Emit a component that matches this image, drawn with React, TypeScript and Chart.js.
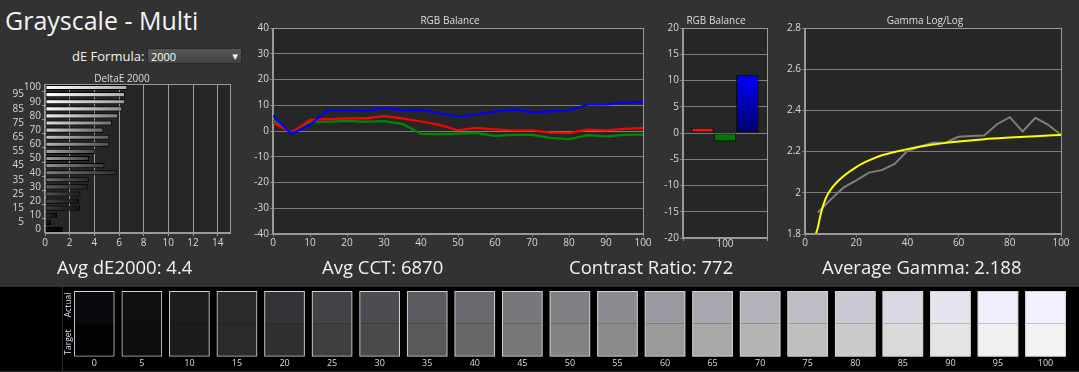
import React, { useEffect, useRef } from 'react';
import { Chart, registerables } from 'chart.js';

Chart.register(...registerables);

const FONT = '"Open Sans", "Noto Sans", "DejaVu Sans", sans-serif';
Chart.defaults.font.family = FONT;

// ---------- data ----------
const levels = [0, 5, 10, 15, 20, 25, 30, 35, 40, 45, 50, 55, 60, 65, 70, 75, 80, 85, 90, 95, 100];

const deltaE2000 = [1.45, 0.48, 0.97, 2.83, 2.75, 2.88, 3.47, 3.55, 5.81, 4.82, 3.58, 4.04, 5.22, 5.22, 4.74, 5.44, 5.95, 6.27, 6.51, 6.49, 6.68];

const redBalance = [3.2, -0.6, 4.3, 4.6, 4.9, 4.9, 5.8, 4.9, 3.7, 2.4, 0.3, 1.2, 0.6, 0.2, 0.3, -0.6, -0.8, 0.5, 0.3, 0.8, 1.2];
const greenBalance = [4.3, -0.5, 3.6, 3.6, 3.9, 3.6, 3.8, 2.8, -1.1, -1.2, -1.0, -0.7, -1.9, -1.5, -1.5, -2.7, -3.2, -1.6, -2.1, -1.5, -1.4];
const blueBalance = [5.9, -1.1, 2.5, 8.1, 8.1, 7.8, 8.9, 8.1, 8.2, 6.9, 5.6, 6.4, 7.6, 8.4, 7.3, 7.6, 8.0, 10.3, 10.3, 11.0, 11.3];

const balanceBarLabel = ['100'];
const balanceAt100 = [1.0, -1.6, 11.0]; // R, G, B

const gammaLevels = [5, 10, 15, 20, 25, 30, 35, 40, 45, 50, 55, 60, 65, 70, 75, 80, 85, 90, 95, 100];
const gammaMeasured = [1.904, 1.967, 2.025, 2.06, 2.098, 2.11, 2.14, 2.203, 2.225, 2.243, 2.244, 2.272, 2.276, 2.278, 2.333, 2.367, 2.298, 2.364, 2.33, 2.281];
const gammaTargetX = [4.2, 5, 6, 8, 10, 15, 20, 25, 30, 35, 40, 50, 60, 70, 80, 90, 100];
const gammaTargetY = [1.8, 1.83, 1.89, 1.97, 2.015, 2.08, 2.125, 2.157, 2.182, 2.198, 2.212, 2.234, 2.249, 2.26, 2.268, 2.275, 2.281];

const actualColors = ['#080a10', '#101010', '#1d1d1d', '#2a2a2c', '#333338', '#424247', '#4d4c52', '#5c5b61', '#69686e', '#78777c', '#807f84', '#8c8b91', '#9a99a2', '#a8a7b0', '#b3b2bb', '#bebdc6', '#cac9d3', '#d9d8e3', '#e5e4ef', '#efeefc', '#f1f0fe'];
const targetColors = ['#020202', '#0e0e0e', '#1c1c1c', '#2a2a2a', '#303030', '#3f3f3f', '#4a4a4a', '#595959', '#676767', '#777777', '#838383', '#8b8b8b', '#9a9a9a', '#a8a8a8', '#b4b4b4', '#bfbfbf', '#cbcbcb', '#d9d9d9', '#e5e5e5', '#f1f1f1', '#f3f3f3'];

const stats = [
  { text: 'Avg dE2000: 4.4', left: 57 },
  { text: 'Avg CCT: 6870', left: 322 },
  { text: 'Contrast Ratio: 772', left: 569 },
  { text: 'Average Gamma: 2.188', left: 822 },
];

// ---------- styles ----------
const PANEL = '#323232';
const PLOT = '#262626';
const GRID = '#7d7d7d';
const FRAME = '#9a9a9a';
const TICK = '#d3d9e3';
const TITLE = '#dedede';
const tickFont = { family: FONT, size: 10 };

const framePlugin = {
  id: 'plotFrame',
  beforeDraw(chart: any, _a: any, opts: any) {
    const { ctx, chartArea: a } = chart;
    if (!a) return;
    ctx.save();
    ctx.fillStyle = opts.bg || PLOT;
    ctx.fillRect(a.left, a.top, a.right - a.left, a.bottom - a.top);
    ctx.restore();
  },
  afterDraw(chart: any, _a: any, opts: any) {
    const { ctx, chartArea: a } = chart;
    if (!a) return;
    ctx.save();
    ctx.strokeStyle = opts.border || FRAME;
    ctx.lineWidth = 1;
    ctx.strokeRect(Math.round(a.left) - 0.5, Math.round(a.top) + 0.5, Math.round(a.right - a.left) + 1, Math.round(a.bottom - a.top) - 1);
    ctx.restore();
  },
};

const titlePlugin = {
  id: 'panelTitle',
  afterDraw(chart: any, _a: any, opts: any) {
    if (!opts || !opts.text) return;
    const ctx = chart.ctx;
    ctx.save();
    ctx.font = `normal 10px ${FONT}`;
    ctx.fillStyle = TITLE;
    ctx.textAlign = 'center';
    ctx.textBaseline = 'middle';
    ctx.fillText(opts.text, opts.x, opts.y);
    ctx.restore();
  },
};

const fixW = (w: number) => (s: any) => {
  s.width = w;
  s.paddingTop = 0; s.paddingBottom = 0; s.paddingLeft = 0; s.paddingRight = 0;
};
const fixH = (h: number) => (s: any) => {
  s.height = h;
  s.paddingTop = 0; s.paddingBottom = 0; s.paddingLeft = 0; s.paddingRight = 0;
};

const num = (v: any) => String(Math.round(Number(v) * 10) / 10);

const baseOpts = {
  responsive: false,
  animation: false as const,
  events: [] as any[],
};

const hexToGray = (h: string) => parseInt(h.slice(1, 3), 16);
const grayHex = (v: number) => {
  const c = Math.max(0, Math.min(255, Math.round(v))).toString(16).padStart(2, '0');
  return '#' + c + c + c;
};

// ---------- chart configs ----------
const levelsDesc = [...levels].reverse().map(String);
const deltaDesc = [...deltaE2000].reverse();

function deltaConfig(): any {
  return {
    type: 'bar',
    data: {
      labels: levelsDesc,
      datasets: [
        {
          label: 'DeltaE 2000',
          data: deltaDesc,
          borderColor: '#000000',
          borderWidth: 1,
          borderSkipped: false,
          barPercentage: 0.72,
          categoryPercentage: 1,
          backgroundColor: (c: any) => {
            if (c.type !== 'data') return '#888888';
            const idx = levels.length - 1 - c.dataIndex;
            const g = hexToGray(targetColors[idx]);
            const left = grayHex(Math.min(255, g * 1.1 + 14));
            const right = grayHex(g * (0.45 + 0.3 * Math.pow(g / 255, 3)));
            const chart = c.chart;
            if (!chart.chartArea || !chart.scales.x) return left;
            const xs = chart.scales.x;
            const x0 = xs.getPixelForValue(0);
            const x1 = xs.getPixelForValue(c.raw || 0);
            const grad = chart.ctx.createLinearGradient(x0, 0, Math.max(x1, x0 + 1), 0);
            grad.addColorStop(0, left);
            grad.addColorStop(1, right);
            return grad;
          },
        },
      ],
    },
    options: {
      ...baseOpts,
      indexAxis: 'y',
      layout: { padding: { left: 0, right: 10, top: 18, bottom: 0 } },
      plugins: {
        legend: { display: false },
        tooltip: { enabled: false },
        title: { display: false },
        panelTitle: { text: 'DeltaE 2000', x: 122, y: 13 },
        plotFrame: { bg: PLOT, border: FRAME },
      },
      scales: {
        x: {
          type: 'linear',
          min: 0,
          max: 15,
          ticks: { stepSize: 2, includeBounds: false, color: TICK, font: tickFont, padding: 1, callback: num },
          grid: { color: '#9c9c9c', tickLength: 3 },
          border: { color: FRAME },
          afterFit: fixH(22),
        },
        y: {
          type: 'category',
          ticks: {
            autoSkip: false,
            color: TICK,
            font: tickFont,
            padding: 1,
            callback: (_v: any, i: number) => (i % 2 === 1 ? levelsDesc[i] + '\u2007\u2007\u2007' : levelsDesc[i]),
          },
          grid: {
            drawOnChartArea: false,
            tickLength: 3,
            color: (c: any) => (c.index % 2 === 1 ? '#9c9c9c' : 'rgba(0,0,0,0)'),
          },
          border: { color: FRAME },
          afterFit: fixW(45),
        },
      },
    },
    plugins: [framePlugin, titlePlugin],
  };
}

function balanceLineConfig(): any {
  const mk = (arr: number[]) => levels.map((x, i) => ({ x, y: arr[i] }));
  return {
    type: 'line',
    data: {
      datasets: [
        { label: 'Blue', data: mk(blueBalance), borderColor: '#0000ff', borderWidth: 2.2, pointRadius: 0, tension: 0 },
        { label: 'Red', data: mk(redBalance), borderColor: '#ff0000', borderWidth: 2.2, pointRadius: 0, tension: 0 },
        { label: 'Green', data: mk(greenBalance), borderColor: '#008800', borderWidth: 2.2, pointRadius: 0, tension: 0 },
      ],
    },
    options: {
      ...baseOpts,
      layout: { padding: { left: 0, right: 17, top: 20, bottom: 0 } },
      plugins: {
        legend: { display: false },
        tooltip: { enabled: false },
        title: { display: false },
        panelTitle: { text: 'RGB Balance', x: 210, y: 13 },
        plotFrame: { bg: PLOT, border: FRAME },
      },
      scales: {
        x: {
          type: 'linear',
          min: 0,
          max: 100,
          ticks: { stepSize: 10, color: TICK, font: tickFont, padding: 0, callback: num },
          grid: { drawOnChartArea: false, tickLength: 3, color: GRID },
          border: { color: FRAME },
          afterFit: fixH(20),
        },
        y: {
          min: -40,
          max: 40,
          ticks: { stepSize: 10, color: TICK, font: tickFont, padding: 1, callback: num },
          grid: { color: GRID, tickLength: 3 },
          border: { color: FRAME },
          afterFit: fixW(33),
        },
      },
    },
    plugins: [framePlugin, titlePlugin],
  };
}

function balanceBarConfig(): any {
  const grad = (top: string, bottom: string) => (c: any) => {
    const chart = c.chart;
    if (c.type !== 'data' || !chart.chartArea || !chart.scales.y) return top;
    const ys = chart.scales.y;
    const v = c.raw || 0;
    const y0 = ys.getPixelForValue(Math.max(v, 0));
    const y1 = ys.getPixelForValue(Math.min(v, 0));
    const g = chart.ctx.createLinearGradient(0, y0, 0, Math.max(y1, y0 + 1));
    g.addColorStop(0, top);
    g.addColorStop(1, bottom);
    return g;
  };
  return {
    type: 'bar',
    data: {
      labels: balanceBarLabel,
      datasets: [
        { label: 'Red', data: [balanceAt100[0]], backgroundColor: grad('#ff2020', '#e00000') },
        { label: 'Green', data: [balanceAt100[1]], backgroundColor: grad('#008800', '#006e00') },
        { label: 'Blue', data: [balanceAt100[2]], backgroundColor: grad('#0000ff', '#000068') },
      ],
    },
    options: {
      ...baseOpts,
      layout: { padding: { left: 0, right: 13, top: 20, bottom: 0 } },
      datasets: { bar: { categoryPercentage: 0.8, barPercentage: 1, borderColor: '#000000', borderWidth: 1, borderSkipped: false } },
      plugins: {
        legend: { display: false },
        tooltip: { enabled: false },
        title: { display: false },
        panelTitle: { text: 'RGB Balance', x: 56, y: 13 },
        plotFrame: { bg: PLOT, border: FRAME },
      },
      scales: {
        x: {
          type: 'category',
          ticks: { color: TICK, font: tickFont, padding: -3 },
          grid: { drawOnChartArea: false, tickLength: 3, color: FRAME, offset: true },
          border: { color: FRAME },
          afterFit: fixH(20),
        },
        y: {
          min: -20,
          max: 20,
          ticks: { stepSize: 5, color: TICK, font: tickFont, padding: 1, callback: num },
          grid: { color: GRID, tickLength: 3 },
          border: { color: FRAME },
          afterFit: fixW(23),
        },
      },
    },
    plugins: [framePlugin, titlePlugin],
  };
}

function gammaConfig(): any {
  return {
    type: 'line',
    data: {
      datasets: [
        {
          label: 'Target',
          data: gammaTargetX.map((x, i) => ({ x, y: gammaTargetY[i] })),
          borderColor: '#ffff00',
          borderWidth: 2,
          pointRadius: 0,
          cubicInterpolationMode: 'monotone',
        },
        {
          label: 'Measured',
          data: gammaLevels.map((x, i) => ({ x, y: gammaMeasured[i] })),
          borderColor: '#7f7f7f',
          borderWidth: 2,
          pointRadius: 0,
          tension: 0,
        },
      ],
    },
    options: {
      ...baseOpts,
      layout: { padding: { left: 0, right: 18, top: 20, bottom: 0 } },
      plugins: {
        legend: { display: false },
        tooltip: { enabled: false },
        title: { display: false },
        panelTitle: { text: 'Gamma Log/Log', x: 150, y: 13 },
        plotFrame: { bg: PLOT, border: FRAME },
      },
      scales: {
        x: {
          type: 'linear',
          min: 0,
          max: 100,
          ticks: { stepSize: 20, color: TICK, font: tickFont, padding: 0, callback: num },
          grid: { drawOnChartArea: false, tickLength: 3, color: GRID },
          border: { color: FRAME },
          afterFit: fixH(20),
        },
        y: {
          min: 1.8,
          max: 2.8,
          ticks: { stepSize: 0.2, color: TICK, font: tickFont, padding: 1, callback: num },
          grid: { color: GRID, tickLength: 3 },
          border: { color: FRAME },
          afterFit: fixW(30),
        },
      },
    },
    plugins: [framePlugin, titlePlugin],
  };
}

function swatchConfig(): any {
  return {
    type: 'bar',
    data: {
      labels: levels.map(String),
      datasets: [
        {
          label: 'Frame',
          data: levels.map(() => [0, 2]),
          backgroundColor: 'rgba(0,0,0,0)',
          borderColor: '#d2d2d2',
          borderWidth: 1,
          borderSkipped: false,
          grouped: false,
          order: 0,
        },
        {
          label: 'Actual',
          data: levels.map(() => [1, 2]),
          backgroundColor: actualColors,
          borderWidth: 0,
          grouped: false,
          order: 1,
        },
        {
          label: 'Target',
          data: levels.map(() => [0, 1]),
          backgroundColor: targetColors,
          borderWidth: 0,
          grouped: false,
          order: 2,
        },
      ],
    },
    options: {
      ...baseOpts,
      layout: { padding: { left: 7.5, right: 9.7, top: 4, bottom: 0 } },
      datasets: { bar: { categoryPercentage: 1, barPercentage: 0.856 } },
      plugins: { legend: { display: false }, tooltip: { enabled: false }, title: { display: false } },
      scales: {
        x: {
          type: 'category',
          ticks: { color: '#d6dbe6', font: { family: FONT, size: 9 }, padding: 1, autoSkip: false, maxRotation: 0 },
          grid: { display: false, drawTicks: false, tickLength: 0 },
          border: { display: false },
          afterFit: fixH(15.3),
        },
        y: { display: false, min: 0, max: 2 },
      },
    },
  };
}

// ---------- components ----------
function ChartBox(props: { left: number; top: number; width: number; height: number; make: () => any }) {
  const ref = useRef<HTMLCanvasElement>(null);
  useEffect(() => {
    if (!ref.current) return;
    const chart = new Chart(ref.current, props.make());
    return () => chart.destroy();
  }, []);
  return (
    <canvas
      ref={ref}
      width={props.width}
      height={props.height}
      style={{ position: 'absolute', left: props.left, top: props.top, width: props.width, height: props.height }}
    />
  );
}

export default function App() {
  return (
    <div
      style={{
        position: 'fixed',
        left: 0,
        top: 0,
        width: 1079,
        height: 372,
        background: PANEL,
        overflow: 'hidden',
        fontFamily: FONT,
        color: '#f2f2f2',
      }}
    >
      <div style={{ position: 'absolute', left: 5, top: 4.6, fontSize: 25, lineHeight: '30px', whiteSpace: 'nowrap', color: '#f4f4f4' }}>
        Grayscale - Multi
      </div>
      <div style={{ position: 'absolute', left: 72, top: 48, fontSize: 13, lineHeight: '16px', whiteSpace: 'nowrap' }}>dE Formula:</div>
      <div
        style={{
          position: 'absolute',
          left: 147,
          top: 48,
          width: 95,
          height: 16,
          boxSizing: 'border-box',
          background: 'linear-gradient(#585858, #434343)',
          border: '1px solid #2a2a2a',
          display: 'flex',
          alignItems: 'center',
          justifyContent: 'space-between',
          padding: '0 3px 0 3px',
          fontSize: 11,
          color: '#ffffff',
        }}
      >
        <span>2000</span>
        <span style={{ fontSize: 7 }}>▼</span>
      </div>

      <ChartBox left={0} top={66} width={240} height={189} make={deltaConfig} />
      <ChartBox left={240} top={8} width={420} height={246} make={balanceLineConfig} />
      <ChartBox left={660} top={8} width={120} height={250} make={balanceBarConfig} />
      <ChartBox left={775} top={8} width={304} height={246} make={gammaConfig} />

      {stats.map((s) => (
        <div key={s.text} style={{ position: 'absolute', left: s.left, top: 255.8, fontSize: 18.5, lineHeight: '22px', whiteSpace: 'nowrap' }}>
          {s.text}
        </div>
      ))}

      <div style={{ position: 'absolute', left: 0, top: 287, width: 1079, height: 85, background: '#000000' }} />
      <div style={{ position: 'absolute', left: 62, top: 287, width: 1, height: 85, background: '#2c2c2c' }} />
      <div style={{ position: 'absolute', left: 0, top: 371, width: 1079, height: 1, background: '#2a2a2a' }} />
      <ChartBox left={63} top={287} width={1016} height={85} make={swatchConfig} />
      {[
        { t: 'Actual', cy: 305.3 },
        { t: 'Target', cy: 342 },
      ].map((l) => (
        <div
          key={l.t}
          style={{
            position: 'absolute',
            left: 67.7,
            top: l.cy,
            transform: 'translate(-50%, -50%) rotate(-90deg)',
            fontSize: 8.5,
            lineHeight: '10px',
            whiteSpace: 'nowrap',
            color: '#dfe2ec',
          }}
        >
          {l.t}
        </div>
      ))}
    </div>
  );
}
